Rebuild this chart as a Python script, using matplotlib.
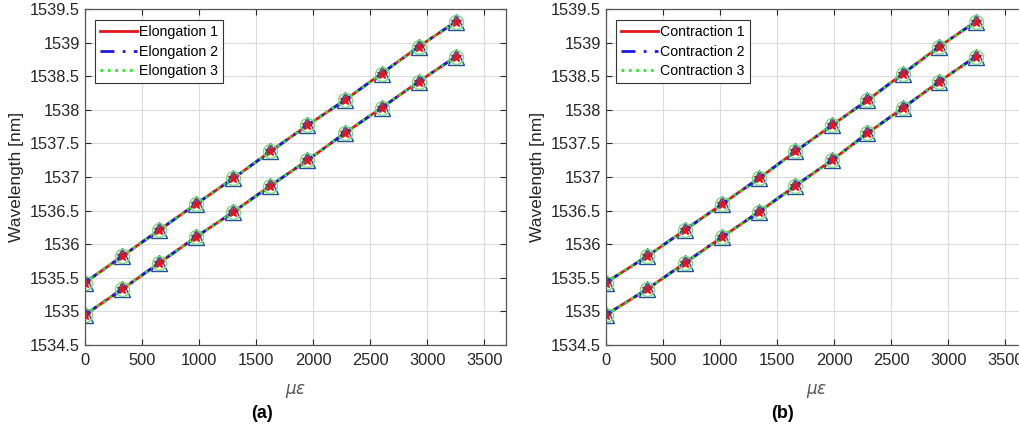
import matplotlib
matplotlib.use('Agg')
import matplotlib.pyplot as plt

plt.rcParams['font.family'] = ['Liberation Sans', 'DejaVu Sans']

# strain points (micro-strain)
strain_a = [0, 325, 650, 975, 1300, 1625, 1950, 2275, 2600, 2925, 3250]
strain_b = [0, 360, 690, 1020, 1340, 1660, 1980, 2290, 2605, 2920, 3240]

# Bragg wavelengths of the two gratings [nm]
fbg_upper = [1535.43, 1535.82, 1536.21, 1536.60, 1536.98, 1537.38,
             1537.77, 1538.14, 1538.54, 1538.94, 1539.31]
fbg_lower = [1534.95, 1535.33, 1535.72, 1536.11, 1536.48, 1536.87,
             1537.25, 1537.65, 1538.03, 1538.42, 1538.79]

labels_a = ['Elongation 1', 'Elongation 2', 'Elongation 3']
labels_b = ['Contraction 1', 'Contraction 2', 'Contraction 3']

yticks = [1534.5, 1535, 1535.5, 1536, 1536.5, 1537, 1537.5, 1538, 1538.5, 1539, 1539.5]
ytick_labels = ['1534.5', '1535', '1535.5', '1536', '1536.5', '1537', '1537.5',
                '1538', '1538.5', '1539', '1539.5']
xticks = [0, 500, 1000, 1500, 2000, 2500, 3000, 3500]

styles = [
    dict(color='#e8141c', ls='-', marker='*', mfc='#e8141c', mec='#e8141c', ms=8),
    dict(color='#1a1adf', ls=(0, (5, 3, 1, 3)), marker='^', mfc='none', mec='#1f4f9a', ms=12),
    dict(color='#2ee62e', ls=':', marker='o', mfc='none', mec='#7ad87a', ms=10),
]

fig = plt.figure(figsize=(10.19, 4.32), dpi=100)
ax_a = fig.add_axes([85 / 1019, 87 / 432, 421 / 1019, 336 / 432])
ax_b = fig.add_axes([606 / 1019, 87 / 432, 421 / 1019, 336 / 432])

grey = '#262626'
for ax, strain, labels, tag, tagx in [(ax_a, strain_a, labels_a, '(a)', 262),
                                      (ax_b, strain_b, labels_b, '(b)', 782)]:
    for st, lab in zip(styles, labels):
        for k, series in enumerate([fbg_upper, fbg_lower]):
            ax.plot(strain, series, color=st['color'], ls=st['ls'], lw=2,
                    label=lab if k == 0 else None)
    # markers drawn on top of the lines
    for st in styles:
        for series in [fbg_upper, fbg_lower]:
            ax.plot(strain, series, ls='none', marker=st['marker'], ms=st['ms'],
                    mfc=st['mfc'], mec=st['mec'], mew=1)

    ax.set_xlim(0, 3690)
    ax.set_ylim(1534.5, 1539.5)
    ax.set_xticks(xticks)
    ax.set_yticks(yticks)
    ax.set_yticklabels(ytick_labels)
    ax.grid(True, color='#dcdcdc', lw=0.8)
    ax.set_axisbelow(True)
    ax.tick_params(direction='in', top=True, right=True, labelsize=11.8,
                   colors=grey, length=4)
    ax.tick_params(axis='x', pad=6)
    for sp in ax.spines.values():
        sp.set_color('#555555')
        sp.set_linewidth(0.9)
    ax.set_ylabel('Wavelength [nm]', fontsize=12.5, color=grey, labelpad=4)
    ax.set_xlabel(r'$\mu\epsilon$', fontsize=12, color='#555555', labelpad=10)
    leg = ax.legend(loc='upper left', fontsize=10.2, handlelength=2.6,
                    handletextpad=0.15, borderpad=0.35, labelspacing=0.4,
                    borderaxespad=0, fancybox=False, framealpha=1,
                    edgecolor='#333333', bbox_to_anchor=(0.024, 0.967))
    leg.get_frame().set_linewidth(0.8)
    fig.text(tagx / 1019, 1 - 413 / 432, tag, fontsize=13, fontweight='bold',
             ha='center', va='center')

fig.savefig('out.png', dpi=100)
